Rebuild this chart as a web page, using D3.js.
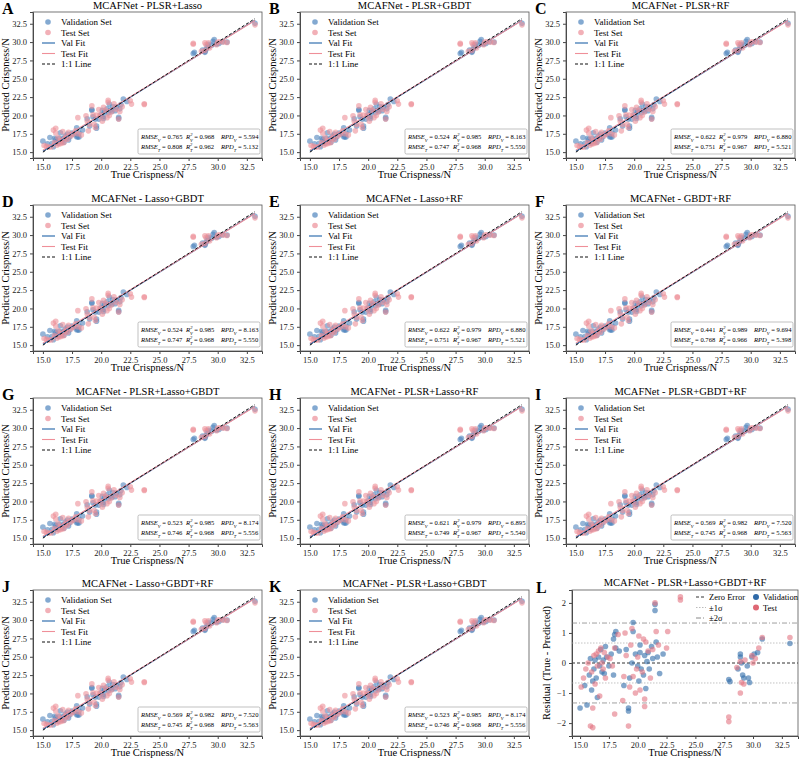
<!DOCTYPE html>
<html>
<head>
<meta charset="UTF-8" />
<script src="https://d3js.org/d3.v7.min.js"></script>
<style>
  body { margin: 0; background: #fff; }
  svg, svg text { font-family: 'Liberation Serif', 'DejaVu Serif', serif; font-weight: normal; }
  .axis text { font-size: 8.5px; fill: #222; }
  .axis path, .axis line { stroke: #444; }
</style>
</head>
<body>
<div id="chart"></div>
<script>
// residual plot data: [true, residual]  (predicted = true - residual)
const valPts = [[15.0,-1.5],[15.4,-0.75],[15.6,-1.4],[15.8,-0.4],[15.9,0.15],[16.0,-0.9],[16.1,-0.6],[16.2,-0.2],[16.3,0.1],[16.4,-0.5],[16.5,-1.15],[16.6,0.2],[16.7,-0.1],[16.8,0.45],[16.9,-0.3],[17.0,0.1],[17.1,-0.35],[17.2,0.55],[17.3,0.2],[17.5,-0.1],[17.7,0.3],[17.9,-0.4],[17.9,0.8],[18.0,0.95],[18.1,1.05],[18.1,0.5],[18.4,0.4],[18.8,-0.75],[19.0,0.45],[19.2,-1.5],[19.2,-1.6],[19.3,-0.5],[19.5,0.0],[19.6,1.35],[19.6,1.05],[19.8,0.3],[20.0,-0.1],[20.1,-0.6],[20.2,0.6],[20.2,0.35],[20.3,-0.2],[20.5,-0.4],[20.6,0.25],[20.7,-0.85],[20.8,0.05],[20.9,0.35],[21.0,-0.2],[21.2,0.55],[21.3,0.15],[21.5,1.75],[21.5,1.95],[21.6,0.7],[21.7,0.2],[21.9,-0.35],[22.2,0.3],[27.9,-0.55],[28.0,-0.62],[28.7,-0.2],[28.9,0.3],[28.9,0.2],[29.0,0.0],[29.1,-0.4],[29.2,-0.5],[29.5,-0.1],[29.6,-0.5],[29.7,-0.65],[29.9,0.2],[30.1,0.3],[30.4,0.35],[30.8,0.8],[33.2,0.65]];
const testPts = [[15.1,-0.8],[15.3,-0.5],[15.5,-0.2],[15.7,0.0],[15.9,-2.1],[16.0,-0.3],[16.1,-2.15],[16.1,-1.5],[16.2,0.25],[16.3,-0.7],[16.4,0.3],[16.5,-0.1],[16.6,0.4],[16.7,-1.1],[16.8,0.5],[16.9,0.0],[17.0,-0.2],[17.1,0.35],[17.2,-0.5],[17.4,0.2],[17.6,0.15],[17.8,-0.1],[18.0,-1.7],[18.0,0.5],[18.3,0.95],[18.7,-1.25],[18.8,-0.45],[18.9,1.0],[19.0,0.25],[19.2,-2.1],[19.3,-0.8],[19.4,0.6],[19.5,1.15],[19.6,-0.45],[19.8,-1.0],[19.9,-0.2],[20.0,0.2],[20.1,0.9],[20.2,-0.9],[20.4,-0.3],[20.5,0.8],[20.6,-1.2],[20.6,-1.45],[20.7,0.7],[20.9,0.4],[21.1,-0.5],[21.3,0.45],[21.5,2.0],[21.6,1.05],[21.8,0.6],[22.5,0.5],[22.6,1.05],[23.7,2.2],[23.7,2.1],[27.9,-1.8],[27.9,-1.95],[28.6,-0.15],[28.9,0.05],[28.9,-1.0],[29.0,-0.65],[29.2,-0.7],[29.3,0.1],[29.9,0.25],[30.0,0.0],[30.2,0.15],[30.5,0.5],[30.8,0.85],[33.2,0.85]];

const letters = ['A','B','C','D','E','F','G','H','I','J','K'];
const titles = ['MCAFNet - PLSR+Lasso','MCAFNet - PLSR+GBDT','MCAFNet - PLSR+RF','MCAFNet - Lasso+GBDT','MCAFNet - Lasso+RF','MCAFNet - GBDT+RF','MCAFNet - PLSR+Lasso+GBDT','MCAFNet - PLSR+Lasso+RF','MCAFNet - PLSR+GBDT+RF','MCAFNet - Lasso+GBDT+RF','MCAFNet - PLSR+Lasso+GBDT'];
const rmseV = ['0.765','0.524','0.622','0.524','0.622','0.441','0.523','0.621','0.569','0.569','0.523'];
const r2V   = ['0.968','0.985','0.979','0.985','0.979','0.989','0.985','0.979','0.982','0.982','0.985'];
const rpdV  = ['5.594','8.163','6.880','8.163','6.880','9.694','8.174','6.895','7.520','7.520','8.174'];
const rmseT = ['0.808','0.747','0.751','0.747','0.751','0.768','0.746','0.749','0.745','0.745','0.746'];
const r2T   = ['0.962','0.968','0.967','0.968','0.967','0.966','0.968','0.967','0.968','0.968','0.968'];
const rpdT  = ['5.132','5.550','5.521','5.550','5.521','5.398','5.556','5.540','5.563','5.563','5.556'];
const xTicks = [15, 17.5, 20, 22.5, 25, 27.5, 30, 32.5];
const resTicks = [-2, -1, 0, 1, 2];

const blue = '#4f84bd', red = '#ec8f98', blueFit = '#1f63a8', redFit = '#ef8f99';
const W = 800, H = 762;
const svg = d3.select('#chart').append('svg').attr('width', W).attr('height', H);

const colX = [33, 300, 566], rowY = [12, 205, 398, 590];
const pw = 229, ph = 146;

function fit(pts) {
  const mx = d3.mean(pts, d => d[0]), my = d3.mean(pts, d => d[1]);
  const b = d3.sum(pts, d => (d[0]-mx)*(d[1]-my)) / d3.sum(pts, d => (d[0]-mx)**2);
  return [b, my - b*mx];
}

const valXY = valPts.map(d => [d[0], d[0] - d[1]]);
const testXY = testPts.map(d => [d[0], d[0] - d[1]]);

letters.forEach((L, i) => {
  const ox = colX[i % 3], oy = rowY[Math.floor(i / 3)];
  const g = svg.append('g').attr('transform', `translate(${ox},${oy})`);
  const x = d3.scaleLinear().domain([14.15, 33.8]).range([0, pw]);
  const y = d3.scaleLinear().domain([14.2, 34.1]).range([ph, 0]);

  g.append('g').attr('class', 'axis').attr('transform', `translate(0,${ph})`)
    .call(d3.axisBottom(x).tickValues(xTicks).tickFormat(d3.format('.1f')).tickSize(3));
  g.append('g').attr('class', 'axis')
    .call(d3.axisLeft(y).tickValues(xTicks).tickFormat(d3.format('.1f')).tickSize(3));
  g.append('rect').attr('width', pw).attr('height', ph).attr('fill', 'none').attr('stroke', '#555').attr('stroke-width', 0.8);

  g.append('g').selectAll('circle').data(valXY).join('circle')
    .attr('cx', d => x(d[0])).attr('cy', d => y(d[1])).attr('r', 2.8)
    .attr('fill', blue).attr('fill-opacity', 0.6);
  g.append('g').selectAll('circle').data(testXY).join('circle')
    .attr('cx', d => x(d[0])).attr('cy', d => y(d[1])).attr('r', 2.8)
    .attr('fill', red).attr('fill-opacity', 0.6);

  [[valXY, blueFit], [testXY, redFit]].forEach(([pts, c]) => {
    const [b, a] = fit(pts);
    g.append('line').attr('x1', x(15)).attr('y1', y(a + b*15)).attr('x2', x(33.2)).attr('y2', y(a + b*33.2))
      .attr('stroke', c).attr('stroke-width', 1.1);
  });
  g.append('line').attr('x1', x(15)).attr('y1', y(15)).attr('x2', x(33.2)).attr('y2', y(33.2))
    .attr('stroke', '#111').attr('stroke-width', 1).attr('stroke-dasharray', '3,2');

  // legend
  const lg = g.append('g').attr('transform', 'translate(10,10)').style('font-size', '9px');
  const items = [['c', blue, 'Validation Set'], ['c', red, 'Test Set'], ['l', blueFit, 'Val Fit'], ['l', redFit, 'Test Fit'], ['d', '#111', '1:1 Line']];
  items.forEach((it, k) => {
    const yy = k * 10.5;
    if (it[0] === 'c') lg.append('circle').attr('cx', 5).attr('cy', yy).attr('r', 2.8).attr('fill', it[1]).attr('fill-opacity', 0.7);
    else lg.append('line').attr('x1', -1).attr('x2', 12).attr('y1', yy).attr('y2', yy).attr('stroke', it[1]).attr('stroke-width', 1.1)
      .attr('stroke-dasharray', it[0] === 'd' ? '3,2' : null);
    lg.append('text').attr('x', 18).attr('y', yy + 3).text(it[2]);
  });

  // stats box
  const sb = g.append('g').attr('transform', `translate(${pw - 124},${ph - 29})`);
  sb.append('rect').attr('width', 122).attr('height', 25).attr('fill', '#fff').attr('stroke', '#999').attr('stroke-width', 0.6).attr('rx', 1.5);
  [[rmseV[i], r2V[i], rpdV[i], 'V'], [rmseT[i], r2T[i], rpdT[i], 'T']].forEach((r, k) => {
    const yy = 10 + k * 10;
    const t1 = sb.append('text').attr('x', 3).attr('y', yy).style('font-size', '6.6px').style('font-style', 'italic');
    t1.append('tspan').text('RMSE');
    t1.append('tspan').attr('baseline-shift', 'sub').style('font-size', '4.5px').text(r[3]);
    t1.append('tspan').style('font-style', 'normal').text(' = ' + r[0]);
    const t2 = sb.append('text').attr('x', 48).attr('y', yy).style('font-size', '6.6px').style('font-style', 'italic');
    t2.append('tspan').text('R');
    t2.append('tspan').attr('baseline-shift', 'sub').style('font-size', '4.5px').text(r[3]);
    t2.append('tspan').attr('dy', -3).attr('dx', -2.5).style('font-size', '4.5px').text('2');
    t2.append('tspan').attr('dy', 3).style('font-style', 'normal').text(' = ' + r[1]);
    const t3 = sb.append('text').attr('x', 83).attr('y', yy).style('font-size', '6.6px').style('font-style', 'italic');
    t3.append('tspan').text('RPD');
    t3.append('tspan').attr('baseline-shift', 'sub').style('font-size', '4.5px').text(r[3]);
    t3.append('tspan').style('font-style', 'normal').text(' = ' + r[2]);
  });

  g.append('text').attr('x', pw / 2).attr('y', -3).attr('text-anchor', 'middle').style('font-size', '10.5px').text(titles[i]);
  g.append('text').attr('x', pw / 2).attr('y', ph + 20).attr('text-anchor', 'middle').style('font-size', '10.5px').text('True Crispness/N');
  g.append('text').attr('transform', `translate(-24,${ph / 2}) rotate(-90)`).attr('text-anchor', 'middle').style('font-size', '10.5px').text('Predicted Crispness/N');
  g.append('text').attr('x', -31).attr('y', 2).style('font-size', '16px').style('font-weight', 'bold').text(L);
});

// panel L: residuals
(function () {
  const ox = 572, oy = 590, w = 226, h = 146;
  const g = svg.append('g').attr('transform', `translate(${ox},${oy})`);
  const x = d3.scaleLinear().domain([14.3, 33.9]).range([0, w]);
  const y = d3.scaleLinear().domain([-2.43, 2.43]).range([h, 0]);
  g.append('g').attr('class', 'axis').attr('transform', `translate(0,${h})`)
    .call(d3.axisBottom(x).tickValues(xTicks).tickFormat(d3.format('.1f')).tickSize(3));
  g.append('g').attr('class', 'axis')
    .call(d3.axisLeft(y).tickValues(resTicks).tickFormat(d => d < 0 ? '\u2212' + (-d) : d).tickSize(3));
  const sd = 0.665;
  [[0, '#333', '3,2', 1], [sd, '#bbb', '1.5,1.5', 0.9], [-sd, '#bbb', '1.5,1.5', 0.9], [2*sd, '#888', '5,2,1,2', 0.8], [-2*sd, '#888', '5,2,1,2', 0.8]]
    .forEach(([v, c, da, sw]) => g.append('line').attr('x1', 0).attr('x2', w).attr('y1', y(v)).attr('y2', y(v))
      .attr('stroke', c).attr('stroke-dasharray', da).attr('stroke-width', sw));
  g.append('rect').attr('width', w).attr('height', h).attr('fill', 'none').attr('stroke', '#555').attr('stroke-width', 0.8);
  g.append('g').selectAll('circle').data(valPts).join('circle')
    .attr('cx', d => x(d[0])).attr('cy', d => y(d[1])).attr('r', 2.8).attr('fill', '#2f6aa8').attr('fill-opacity', 0.6);
  g.append('g').selectAll('circle').data(testPts).join('circle')
    .attr('cx', d => x(d[0])).attr('cy', d => y(d[1])).attr('r', 2.8).attr('fill', '#e27582').attr('fill-opacity', 0.6);

  const lg = g.append('g').style('font-size', '8.5px');
  [['#333', '3,2', 'Zero Error'], ['#bbb', '1.5,1.5', '\u00b11\u03c3'], ['#888', '5,2,1,2', '\u00b12\u03c3']].forEach((it, k) => {
    const yy = 7 + k * 10.5;
    lg.append('line').attr('x1', 124).attr('x2', 134).attr('y1', yy).attr('y2', yy).attr('stroke', it[0]).attr('stroke-dasharray', it[1]);
    lg.append('text').attr('x', 137).attr('y', yy + 3).text(it[2]);
  });
  [['#2f6aa8', 'Validation'], ['#de6774', 'Test']].forEach((it, k) => {
    const yy = 7 + k * 10.5;
    lg.append('circle').attr('cx', 184).attr('cy', yy).attr('r', 3).attr('fill', it[0]);
    lg.append('text').attr('x', 191).attr('y', yy + 3).text(it[1]);
  });

  g.append('text').attr('x', w / 2).attr('y', -4).attr('text-anchor', 'middle').style('font-size', '10.5px').text('MCAFNet - PLSR+Lasso+GBDT+RF');
  g.append('text').attr('x', w / 2).attr('y', h + 20).attr('text-anchor', 'middle').style('font-size', '10.5px').text('True Crispness/N');
  g.append('text').attr('transform', `translate(-22,${h / 2}) rotate(-90)`).attr('text-anchor', 'middle').style('font-size', '10.5px').text('Residual (True - Predicted)');
  g.append('text').attr('x', -36).attr('y', 3).style('font-size', '16px').style('font-weight', 'bold').text('L');
})();
</script>
</body>
</html>
